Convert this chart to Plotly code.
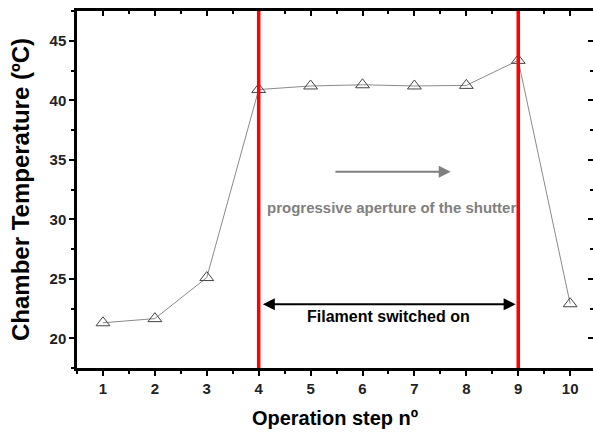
import plotly.graph_objects as go

steps = [1, 2, 3, 4, 5, 6, 7, 8, 9, 10]
temps = [21.3, 21.65, 25.1, 40.9, 41.2, 41.3, 41.2, 41.25, 43.35, 22.9]
red_lines_x = [4, 9]
x_ticks = [1, 2, 3, 4, 5, 6, 7, 8, 9, 10]
y_ticks = [20, 25, 30, 35, 40, 45]
x_range = [0.5, 10.44]
y_range = [17.5, 47.5]

FONT = "Liberation Sans, Arial, sans-serif"

fig = go.Figure()
fig.add_trace(go.Scatter(
    x=steps, y=temps, mode="lines+markers",
    line=dict(color="#8a8a8a", width=1),
    marker=dict(symbol="triangle-up-open", size=12, color="#444444",
                line=dict(width=1, color="#444444")),
    showlegend=False, cliponaxis=False,
))
# invisible trace for top/right axes
fig.add_trace(go.Scatter(x=[x_range[0]], y=[y_range[0]], xaxis="x2", yaxis="y2",
                         mode="markers", marker=dict(opacity=0), showlegend=False,
                         hoverinfo="skip"))

for xv in red_lines_x:
    fig.add_shape(type="line", x0=xv, x1=xv, y0=y_range[0], y1=y_range[1],
                  xref="x", yref="y", line=dict(color="#ff0000", width=3.5))

# black double arrow
fig.add_annotation(x=8.95, y=22.85, ax=4.05, ay=22.85, xref="x", yref="y",
                   axref="x", ayref="y", showarrow=True, arrowhead=2, arrowsize=1.2,
                   arrowwidth=2, arrowcolor="black", arrowside="end+start", text="")
fig.add_annotation(x=6.5, y=21.85, xref="x", yref="y", text="<b>Filament switched on</b>",
                   showarrow=False, font=dict(family=FONT, size=16, color="black"))

# gray arrow
fig.add_annotation(x=7.7, y=34.0, ax=5.45, ay=34.0, xref="x", yref="y",
                   axref="x", ayref="y", showarrow=True, arrowhead=2, arrowsize=1.2,
                   arrowwidth=2, arrowcolor="#7f7f7f", text="")
fig.add_annotation(x=6.55, y=31.0, xref="x", yref="y",
                   text="<b>progressive aperture of the shutter</b>",
                   showarrow=False, font=dict(family=FONT, size=15, color="#808080"))

tickfont = dict(family=FONT, size=15, color="#222")

fig.update_layout(
    width=593, height=433,
    margin=dict(l=77, r=0, t=11, b=65),
    paper_bgcolor="white", plot_bgcolor="white",
    font=dict(family=FONT, color="black"),
    xaxis=dict(range=x_range, tickvals=x_ticks, ticktext=[f"<b>{v}</b>" for v in x_ticks],
               showgrid=False, zeroline=False,
               showline=True, linecolor="black", linewidth=2.5,
               ticks="outside", ticklen=5, tickwidth=2, tickcolor="black",
               minor=dict(dtick=0.5, tick0=0.5, ticklen=3, tickwidth=1.5, tickcolor="black", ticks="outside"),
               tickfont=tickfont,
               title=dict(text="<b>Operation step nº</b>", font=dict(family=FONT, size=20, color="black"),
                          standoff=16)),
    yaxis=dict(range=y_range, tickvals=y_ticks, ticktext=[f"<b>{v}</b>" for v in y_ticks],
               showgrid=False, zeroline=False,
               showline=True, linecolor="black", linewidth=2.5,
               ticks="outside", ticklen=5, tickwidth=2, tickcolor="black",
               minor=dict(dtick=2.5, tick0=0, ticklen=3, tickwidth=1.5, tickcolor="black", ticks="outside"),
               tickfont=tickfont,
               title=dict(text="<b>Chamber Temperature (ºC)</b>", font=dict(family=FONT, size=24, color="black"),
                          standoff=14)),
    xaxis2=dict(range=x_range, overlaying="x", side="top", anchor="y", showgrid=False,
                zeroline=False, showline=True, linecolor="black", linewidth=2.5,
                tickvals=x_ticks, showticklabels=False, ticks="inside", ticklen=5,
                tickwidth=2, tickcolor="black",
                minor=dict(dtick=0.5, tick0=0.5, ticklen=3, tickwidth=1.5, tickcolor="black", ticks="inside")),
    yaxis2=dict(range=y_range, overlaying="y", side="right", anchor="x", showgrid=False,
                zeroline=False, showline=False, tickvals=y_ticks, showticklabels=False,
                ticks="inside", ticklen=5, tickwidth=2, tickcolor="black",
                minor=dict(dtick=2.5, tick0=0, ticklen=3, tickwidth=1.5, tickcolor="black", ticks="inside")),
)

fig.write_html("out.html")
